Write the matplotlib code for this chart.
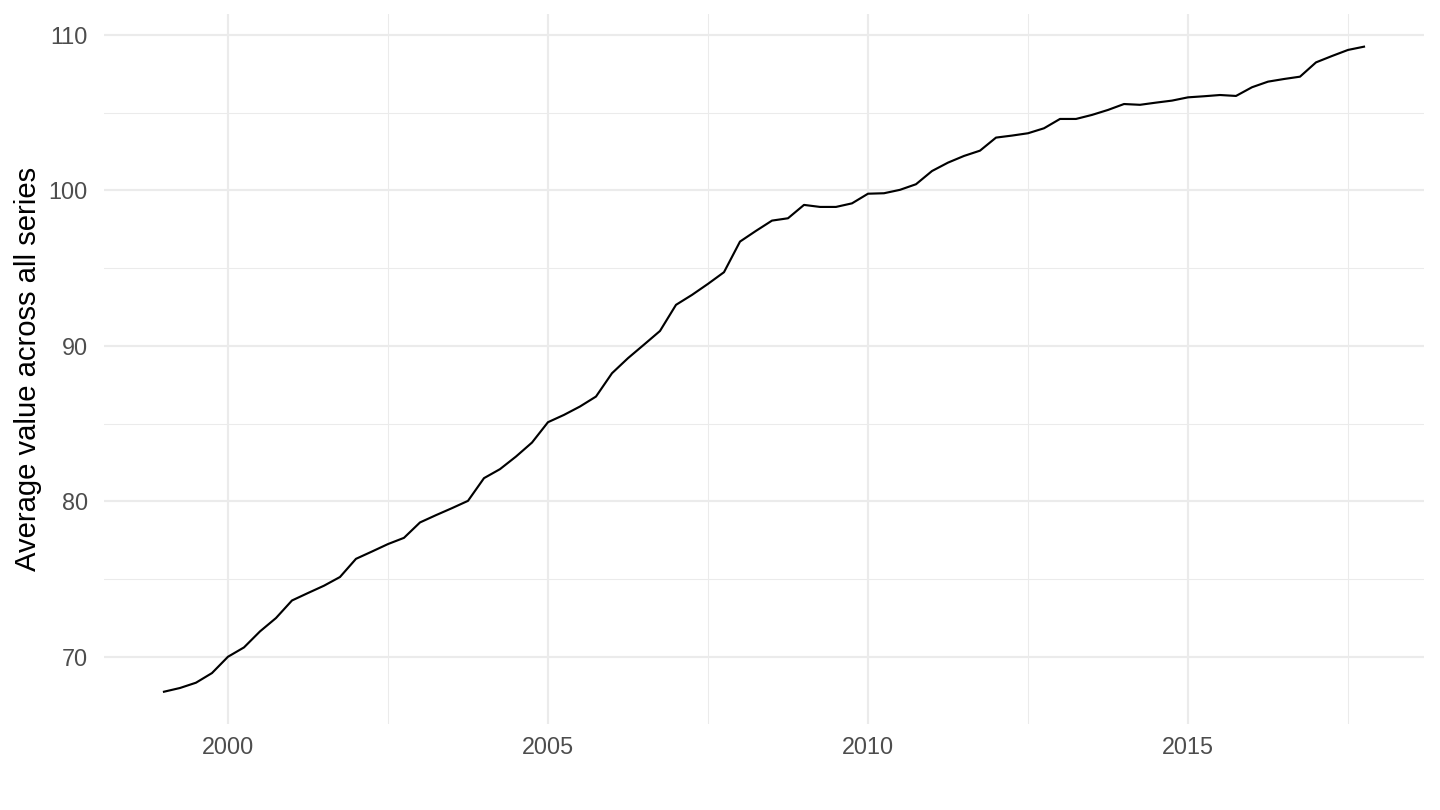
import numpy as np
import matplotlib
matplotlib.use("Agg")
import matplotlib.pyplot as plt
from matplotlib.ticker import FixedLocator

# Quarterly data, 1999 Q1 to 2017 Q4
start_year = 1999
quarters_per_year = 4
values = [
    67.75, 67.99, 68.33, 68.95, 70.00, 70.60, 71.63, 72.49, 73.62, 74.10,
    74.57, 75.13, 76.30, 76.77, 77.25, 77.65, 78.64, 79.11, 79.56, 80.03,
    81.49, 82.07, 82.88, 83.78, 85.09, 85.56, 86.10, 86.74, 88.24, 89.21,
    90.08, 90.96, 92.64, 93.28, 93.99, 94.74, 96.71, 97.40, 98.06, 98.21,
    99.07, 98.94, 98.94, 99.17, 99.79, 99.82, 100.04, 100.40, 101.25, 101.79,
    102.22, 102.56, 103.40, 103.53, 103.68, 104.00, 104.60, 104.60, 104.86, 105.18,
    105.56, 105.51, 105.65, 105.78, 105.99, 106.06, 106.14, 106.08, 106.64, 107.00,
    107.17, 107.32, 108.24, 108.65, 109.04, 109.25,
]
dates = [start_year + i / quarters_per_year for i in range(len(values))]

x_major = [2000, 2005, 2010, 2015]
x_labels = ["2000", "2005", "2010", "2015"]
x_minor = [2002.5, 2007.5, 2012.5, 2017.5]
y_major = [70, 80, 90, 100, 110]
y_minor = [75, 85, 95, 105]
y_label = "Average value across all series"

plt.rcParams['font.family'] = ['Liberation Sans', 'DejaVu Sans']

fig = plt.figure(figsize=(10, 5.625), dpi=144)
ax = fig.add_axes([0.0722, 0.1062, 0.9889 - 0.0722, 0.9822 - 0.1062])

ax.plot(dates, values, color="black", linewidth=1.07, zorder=3, solid_joinstyle="round")

xmin, xmax = min(dates), max(dates)
xr = xmax - xmin
ax.set_xlim(xmin - 0.05 * xr, xmax + 0.05 * xr)
ymin, ymax = min(values), max(values)
yr = ymax - ymin
ax.set_ylim(ymin - 0.05 * yr, ymax + 0.05 * yr)

ax.xaxis.set_major_locator(FixedLocator(x_major))
ax.set_xticklabels(x_labels)
ax.xaxis.set_minor_locator(FixedLocator(x_minor))
ax.yaxis.set_major_locator(FixedLocator(y_major))
ax.yaxis.set_minor_locator(FixedLocator(y_minor))

ax.grid(which="major", color="#EBEBEB", linewidth=1.07)
ax.grid(which="minor", color="#EBEBEB", linewidth=0.53)
ax.set_axisbelow(True)
for s in ax.spines.values():
    s.set_visible(False)
ax.tick_params(which="both", length=0)
ax.tick_params(axis="y", pad=8, labelsize=11.7, labelcolor="#4D4D4D")
ax.tick_params(axis="x", pad=6, labelsize=11.7, labelcolor="#4D4D4D")
ax.set_ylabel(y_label, fontsize=14.6, color="black", labelpad=3.5)

fig.savefig("out.png", dpi=144, facecolor="white")
